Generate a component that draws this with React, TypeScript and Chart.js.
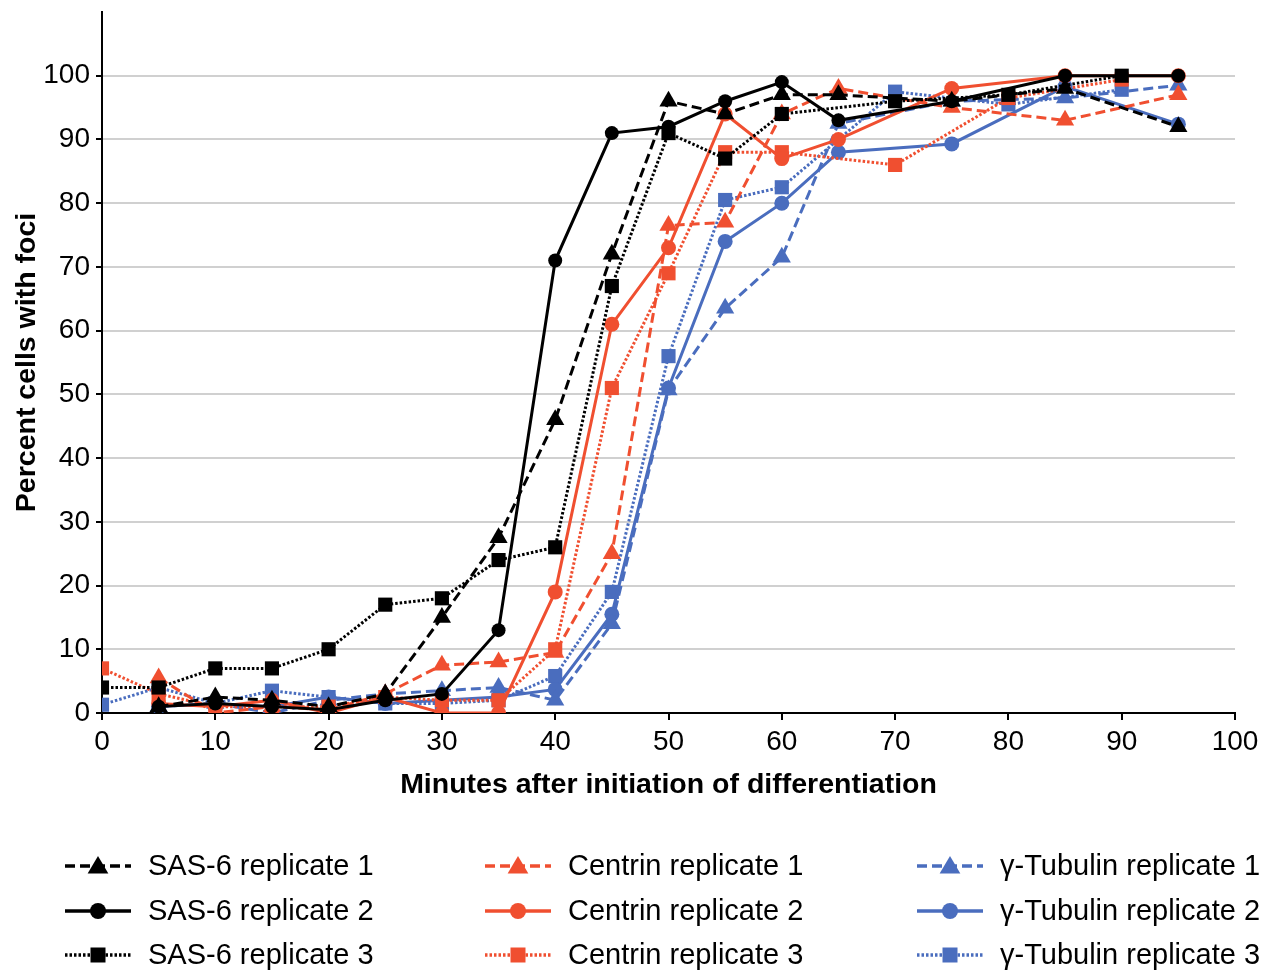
import React, { useEffect, useRef } from 'react';
import { Chart, registerables } from 'chart.js';

Chart.register(...registerables);

// Time points (minutes)
const timesRep12 = [5, 10, 15, 20, 25, 30, 35, 40, 45, 50, 55, 60, 65, 75, 85, 95];
const timesRep3 = [0, 5, 10, 15, 20, 25, 30, 35, 40, 45, 50, 55, 60, 70, 80, 90];

// Percent cells with foci
const sas6Rep1 = [1, 2.5, 2, 1, 3, 15, 27.5, 46, 72, 96, 94, 97, 97, 96, 98, 92];
const sas6Rep2 = [1, 1.5, 1, 0.5, 2, 3, 13, 71, 91, 92, 96, 99, 93, 96, 100, 100];
const sas6Rep3 = [4, 4, 7, 7, 10, 17, 18, 24, 26, 67, 91, 87, 94, 96, 97, 100];
const centrinRep1 = [5.5, 0, 1, 0.5, 3, 7.5, 8, 9.5, 25, 76.5, 77, 94, 98, 95, 93, 97];
const centrinRep2 = [1.5, 1, 2, 0, 2.5, 0, 0, 19, 61, 73, 94, 87, 90, 98, 100, 100];
const centrinRep3 = [7, 3, 1, 1, 1, 2.5, 2, 2, 10, 51, 69, 88, 88, 86, 96.5, 99.4];
const tubRep1 = [1, 1.5, 0, 2, 3, 3.5, 4, 2, 14, 50.7, 63.5, 71.5, 92.5, 96, 96.5, 98.5];
const tubRep2 = [1, 1.5, 1, 2.5, 1.5, 2, 2.5, 3.7, 15.5, 51, 74, 80, 88, 89.3, 98.3, 92.4];
const tubRep3 = [1.3, 4, 1.5, 3.5, 2.5, 1.5, 1.5, 2, 5.8, 19, 56, 80.5, 82.5, 97.5, 95.5, 97.8];

const seriesLabels = [
  'SAS-6 replicate 1', 'SAS-6 replicate 2', 'SAS-6 replicate 3',
  'Centrin replicate 1', 'Centrin replicate 2', 'Centrin replicate 3',
  'γ-Tubulin replicate 1', 'γ-Tubulin replicate 2', 'γ-Tubulin replicate 3',
];

const xTickMax = 100;
const yTickMax = 110;

const BLACK = '#000000';
const RED = '#F04F30';
const BLUE = '#4A6DBE';
const FONT = "'Liberation Sans', Arial, Helvetica, sans-serif";

const DASH = [10, 5];
const DOT = [2.5, 2];

function pts(xs: number[], ys: number[]) {
  return xs.map((x, i) => ({ x, y: ys[i] }));
}

const LEGEND_COL_X = [65, 485, 917];
const LEGEND_ROW_Y = [866, 911, 955];

function drawMarker(ctx: CanvasRenderingContext2D, style: string, x: number, y: number, r: number) {
  ctx.beginPath();
  if (style === 'triangle') {
    const h = r * 1.5;
    ctx.moveTo(x, y - h * 0.75);
    ctx.lineTo(x + r * 1.15, y + h * 0.55);
    ctx.lineTo(x - r * 1.15, y + h * 0.55);
    ctx.closePath();
  } else if (style === 'rect') {
    ctx.rect(x - r, y - r, 2 * r, 2 * r);
  } else {
    ctx.arc(x, y, r, 0, Math.PI * 2);
  }
  ctx.fill();
}

const legendPlugin = {
  id: 'gridLegend',
  afterDraw(chart: any) {
    const ctx: CanvasRenderingContext2D = chart.ctx;
    chart.data.datasets.forEach((ds: any, i: number) => {
      const col = Math.floor(i / 3);
      const row = i % 3;
      const lx = LEGEND_COL_X[col];
      const ly = LEGEND_ROW_Y[row];
      ctx.save();
      ctx.strokeStyle = ds.borderColor;
      ctx.fillStyle = ds.borderColor;
      ctx.lineWidth = 3.5;
      ctx.setLineDash(ds.borderDash || []);
      ctx.beginPath();
      ctx.moveTo(lx, ly);
      ctx.lineTo(lx + 66, ly);
      ctx.stroke();
      ctx.setLineDash([]);
      const style = ds.pointStyle;
      drawMarker(ctx, style, lx + 33, ly, style === 'triangle' ? 9 : style === 'rect' ? 7.5 : 8);
      ctx.fillStyle = '#000';
      ctx.font = `29px ${FONT}`;
      ctx.textBaseline = 'middle';
      ctx.textAlign = 'left';
      ctx.fillText(seriesLabels[i], lx + 83, ly + 1);
      ctx.restore();
    });
  },
};

export default function App() {
  const ref = useRef<HTMLCanvasElement | null>(null);

  useEffect(() => {
    document.body.style.margin = '0';
    const canvas = ref.current;
    if (!canvas) return;

    const mk = (label: string, xs: number[], ys: number[], color: string, dash: number[], style: string, radius: number) => ({
      label,
      data: pts(xs, ys),
      borderColor: color,
      backgroundColor: color,
      borderWidth: 3,
      borderDash: dash,
      pointStyle: style,
      pointRadius: radius,
      pointBackgroundColor: color,
      pointBorderColor: color,
      pointBorderWidth: 0,
      tension: 0,
      fill: false,
    });

    const chart = new Chart(canvas, {
      type: 'line',
      data: {
        datasets: [
          mk(seriesLabels[0], timesRep12, sas6Rep1, BLACK, DASH, 'triangle', 10.5),
          mk(seriesLabels[1], timesRep12, sas6Rep2, BLACK, [], 'circle', 7),
          mk(seriesLabels[2], timesRep3, sas6Rep3, BLACK, DOT, 'rect', 10),
          mk(seriesLabels[3], timesRep12, centrinRep1, RED, DASH, 'triangle', 10.5),
          mk(seriesLabels[4], timesRep12, centrinRep2, RED, [], 'circle', 7.5),
          mk(seriesLabels[5], timesRep3, centrinRep3, RED, DOT, 'rect', 10),
          mk(seriesLabels[6], timesRep12, tubRep1, BLUE, DASH, 'triangle', 10.5),
          mk(seriesLabels[7], timesRep12, tubRep2, BLUE, [], 'circle', 7.5),
          mk(seriesLabels[8], timesRep3, tubRep3, BLUE, DOT, 'rect', 10),
        ] as any,
      },
      options: {
        animation: false,
        responsive: false,
        devicePixelRatio: 1,
        layout: { padding: { left: 0, top: 12, right: 35, bottom: 165 } },
        plugins: {
          legend: { display: false },
          tooltip: { enabled: false },
        },
        scales: {
          x: {
            type: 'linear',
            min: 0,
            max: xTickMax,
            afterFit: (s: any) => { s.height = 93; },
            ticks: {
              stepSize: 10,
              color: '#000',
              padding: 5,
              font: { family: FONT, size: 28 },
              maxRotation: 0,
            },
            grid: {
              drawOnChartArea: false,
              drawTicks: true,
              tickLength: 7,
              tickColor: '#000',
              lineWidth: 2,
            },
            border: { display: true, color: '#000', width: 2 },
            title: {
              display: true,
              text: 'Minutes after initiation of differentiation',
              color: '#000',
              font: { family: FONT, size: 28.5, weight: 'bold' },
              padding: { top: 4, bottom: 4 },
            },
          },
          y: {
            min: 0,
            max: yTickMax,
            afterFit: (s: any) => { s.width = 102; s.paddingTop = 0; s.paddingBottom = 0; },
            ticks: {
              stepSize: 10,
              color: '#000',
              padding: 6,
              font: { family: FONT, size: 28 },
              callback: (v: any) => (v >= yTickMax ? '' : String(v)),
            },
            grid: {
              color: (c: any) => (c.tick && (c.tick.value === 0 || c.tick.value >= yTickMax) ? 'rgba(0,0,0,0)' : '#D0D0D0'),
              lineWidth: 2,
              tickLength: 6,
              tickColor: (c: any) => (c.tick && c.tick.value >= yTickMax ? 'rgba(0,0,0,0)' : '#000'),
            },
            border: { display: true, color: '#000', width: 2 },
            title: {
              display: true,
              text: 'Percent cells with foci',
              color: '#000',
              font: { family: FONT, size: 28.5, weight: 'bold' },
              padding: { top: 10, bottom: 4 },
            },
          },
        },
      } as any,
      plugins: [legendPlugin as any],
    });

    return () => chart.destroy();
  }, []);

  return (
    <div style={{ width: 1270, height: 971, background: '#fff' }}>
      <canvas ref={ref} width={1270} height={971} style={{ display: 'block' }} />
    </div>
  );
}
